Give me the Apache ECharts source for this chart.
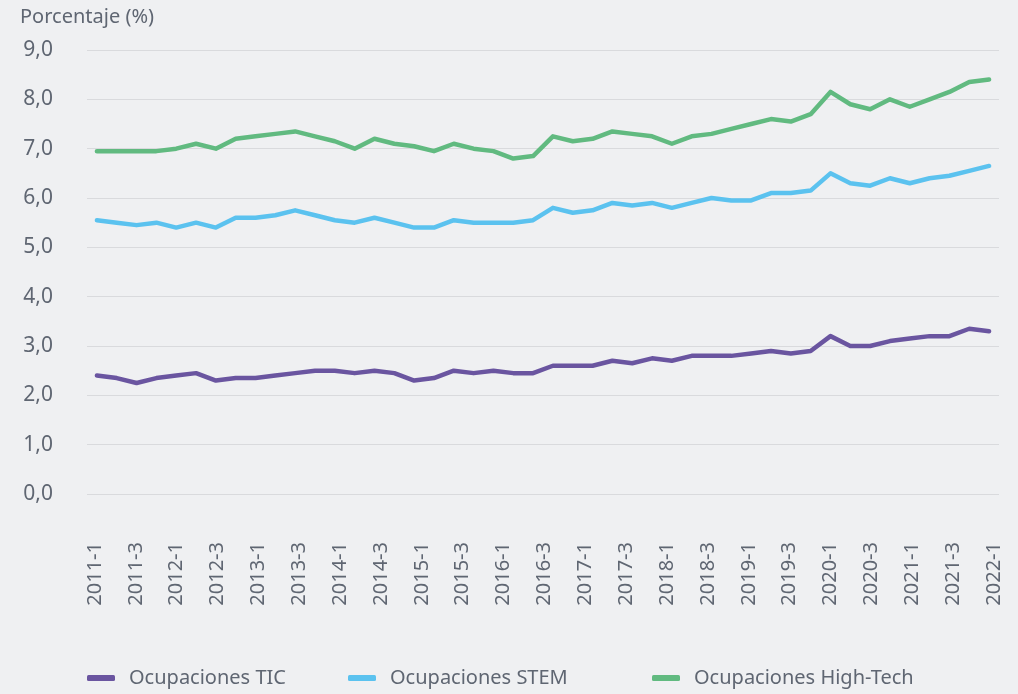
<!DOCTYPE html>
<html>
<head>
<meta charset="utf-8">
<script src="https://cdn.jsdelivr.net/npm/echarts@6/dist/echarts.min.js"></script>
<style>
html, body { margin: 0; padding: 0; background: #eff0f2; }
#main { width: 1018px; height: 694px; }
</style>
</head>
<body>
<div id="main"></div>
<script>
// trimestres de la serie (2011-1 ... 2022-2)
const quarters = [
  '2011-1','2011-2','2011-3','2011-4','2012-1','2012-2','2012-3','2012-4',
  '2013-1','2013-2','2013-3','2013-4','2014-1','2014-2','2014-3','2014-4',
  '2015-1','2015-2','2015-3','2015-4','2016-1','2016-2','2016-3','2016-4',
  '2017-1','2017-2','2017-3','2017-4','2018-1','2018-2','2018-3','2018-4',
  '2019-1','2019-2','2019-3','2019-4','2020-1','2020-2','2020-3','2020-4',
  '2021-1','2021-2','2021-3','2021-4','2022-1','2022-2'
];
// etiquetas que se ven en el eje x
const tickLabels = [
  '2011-1','2011-3','2012-1','2012-3','2013-1','2013-3','2014-1','2014-3',
  '2015-1','2015-3','2016-1','2016-3','2017-1','2017-3','2018-1','2018-3',
  '2019-1','2019-3','2020-1','2020-3','2021-1','2021-3','2022-1'
];
const yTicks = [0, 1, 2, 3, 4, 5, 6, 7, 8, 9];

const tic = [2.4,2.35,2.25,2.35,2.4,2.45,2.3,2.35,2.35,2.4,
  2.45,2.5,2.5,2.45,2.5,2.45,2.3,2.35,
  2.5,2.45,2.5,2.45,2.45,2.6,2.6,2.6,2.7,2.65,
  2.75,2.7,2.8,2.8,2.8,2.85,2.9,2.85,2.9,
  3.2,3.0,3.0,3.1,3.15,3.2,3.2,3.35,3.3];
const stem = [5.55,5.5,5.45,5.5,5.4,5.5,5.4,5.6,5.6,5.65,
  5.75,5.65,5.55,5.5,5.6,5.5,5.4,5.4,
  5.55,5.5,5.5,5.5,5.55,5.8,5.7,5.75,5.9,5.85,
  5.9,5.8,5.9,6.0,5.95,5.95,6.1,6.1,6.15,
  6.5,6.3,6.25,6.4,6.3,6.4,6.45,6.55,6.65];
const highTech = [6.95,6.95,6.95,6.95,7.0,7.1,7.0,7.2,7.25,7.3,
  7.35,7.25,7.15,7.0,7.2,7.1,7.05,6.95,
  7.1,7.0,6.95,6.8,6.85,7.25,7.15,7.2,7.35,7.3,
  7.25,7.1,7.25,7.3,7.4,7.5,7.6,7.55,7.7,
  8.15,7.9,7.8,8.0,7.85,8.0,8.15,8.35,8.4];

const names = ['Ocupaciones TIC', 'Ocupaciones STEM', 'Ocupaciones High-Tech'];
const colors = ['#6a55a0', '#5bc2ef', '#61ba80'];

const txt = '#5f6672';
const font = 'Noto Sans';

let myChart = echarts.init(document.getElementById('main'));

function legendAt(i, left) {
  return {
    data: [names[i]],
    left: left,
    top: 668,
    padding: 0,
    icon: 'roundRect',
    itemWidth: 28,
    itemHeight: 6,
    textStyle: { color: txt, fontSize: 20, fontFamily: font, padding: [0, 0, 0, 9] }
  };
}

let options = {
  backgroundColor: '#eff0f2',
  textStyle: { fontFamily: font },
  title: {
    text: 'Porcentaje (%)',
    left: 15,
    top: 2,
    textStyle: { color: txt, fontSize: 20, fontWeight: 'normal', fontFamily: font }
  },
  legend: [legendAt(0, 87), legendAt(1, 348), legendAt(2, 652)],
  grid: [
    { left: 87, right: 19, top: 50, bottom: 200 }, // datos
    { left: 95, right: 24, top: 50, bottom: 200 }  // solo etiquetas
  ],
  xAxis: [
    {
      gridIndex: 0,
      type: 'category',
      data: quarters,
      boundaryGap: true,
      axisLine: { show: false },
      axisTick: { show: false },
      axisLabel: { show: false },
      splitLine: { show: false }
    },
    {
      gridIndex: 1,
      type: 'category',
      data: tickLabels,
      boundaryGap: false,
      axisLine: { show: false },
      axisTick: { show: false },
      splitLine: { show: false },
      axisLabel: { interval: 0, rotate: 90, margin: 48, color: txt, fontSize: 20, fontFamily: font }
    }
  ],
  yAxis: [
    {
      gridIndex: 0,
      type: 'value',
      min: yTicks[0],
      max: yTicks[yTicks.length - 1],
      interval: 1,
      axisLine: { show: false },
      axisTick: { show: false },
      axisLabel: {
        margin: 34,
        color: txt,
        fontSize: 21,
        fontFamily: font,
        formatter: v => v.toFixed(1).replace('.', ',')
      },
      splitLine: { lineStyle: { color: '#d9dadd', width: 1 } }
    },
    { gridIndex: 1, type: 'value', min: 0, max: 9, show: false }
  ],
  series: [tic, stem, highTech].map((d, i) => ({
    name: names[i],
    type: 'line',
    xAxisIndex: 0,
    yAxisIndex: 0,
    data: d,
    symbol: 'none',
    color: colors[i],
    lineStyle: { width: 4.5, color: colors[i], cap: 'round', join: 'round' }
  }))
};

myChart.setOption(options);
</script>
</body>
</html>
